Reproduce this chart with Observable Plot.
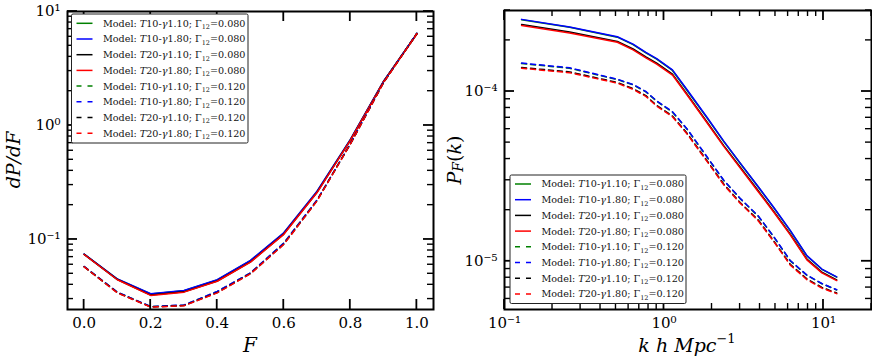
<!DOCTYPE html>
<html><head><meta charset="utf-8">
<script src="https://cdn.jsdelivr.net/npm/d3@7"></script>
<script src="https://cdn.jsdelivr.net/npm/@observablehq/plot@0.6"></script>
<style>
body{margin:0;background:#fff;}
#wrap{position:relative;width:872px;height:362px;overflow:hidden;background:#fff;}
#left,#right{position:absolute;top:0;}
#left{left:0}
#right{left:436px}
svg{overflow:visible}
</style></head><body><div id="wrap"><div id="left"></div><div id="right"></div></div>
<script>
// ---------- data ----------
const seriesNames = ["T10-γ1.10", "T10-γ1.80", "T20-γ1.10", "T20-γ1.80"];
const seriesT = ["10", "10", "20", "20"];
const seriesGamma = ["1.10", "1.80", "1.10", "1.80"];
const seriesColors = ["#008000", "#0000ff", "#000000", "#ff0000"];
const gammaLabels = ["0.080", "0.120"];

// left panel: flux PDF
const F = [0.0, 0.1, 0.2, 0.3, 0.4, 0.5, 0.6, 0.7, 0.8, 0.9, 1.0];
const pdf_T10g110_G080 = [0.0743, 0.0448, 0.0332, 0.0355, 0.0441, 0.0652, 0.1140, 0.264, 0.75, 2.44, 6.38];
const pdf_T10g180_G080 = [0.0745, 0.0450, 0.0334, 0.0357, 0.0443, 0.0655, 0.1145, 0.265, 0.75, 2.45, 6.40];
const pdf_T20g110_G080 = [0.0740, 0.0445, 0.0325, 0.0347, 0.0432, 0.0636, 0.1115, 0.259, 0.74, 2.43, 6.36];
const pdf_T20g180_G080 = [0.0738, 0.0443, 0.0323, 0.0345, 0.0430, 0.0633, 0.1110, 0.258, 0.74, 2.42, 6.35];
const pdf_T10g110_G120 = [0.0578, 0.0344, 0.0257, 0.0265, 0.0349, 0.0508, 0.0928, 0.221, 0.69, 2.40, 6.44];
const pdf_T10g180_G120 = [0.0580, 0.0345, 0.0258, 0.0266, 0.0350, 0.0510, 0.0930, 0.222, 0.69, 2.40, 6.45];
const pdf_T20g110_G120 = [0.0576, 0.0341, 0.0256, 0.0263, 0.0342, 0.0502, 0.0908, 0.219, 0.686, 2.38, 6.41];
const pdf_T20g180_G120 = [0.0575, 0.0340, 0.0255, 0.0262, 0.0340, 0.0500, 0.0905, 0.218, 0.685, 2.38, 6.40];

// right panel: flux power spectrum
const k = [0.128, 0.256, 0.51, 0.64, 0.77, 0.9, 1.13, 1.4, 1.87, 2.37, 3.0, 3.9, 4.87, 6.19, 7.87, 9.77, 12.1];
const pk_T10g110_G080 = [2.65e-4, 2.39e-4, 2.09e-4, 1.89e-4, 1.69e-4, 1.55e-4, 1.33e-4, 1.01e-4, 6.95e-5, 5.07e-5, 3.78e-5, 2.74e-5, 2.07e-5, 1.51e-5, 1.075e-5, 8.97e-6, 8.07e-6];
const pk_T10g180_G080 = [2.66e-4, 2.40e-4, 2.10e-4, 1.90e-4, 1.70e-4, 1.56e-4, 1.34e-4, 1.02e-4, 7.0e-5, 5.1e-5, 3.8e-5, 2.75e-5, 2.08e-5, 1.52e-5, 1.08e-5, 9.0e-6, 8.1e-6];
const pk_T20g110_G080 = [2.48e-4, 2.24e-4, 1.97e-4, 1.78e-4, 1.60e-4, 1.47e-4, 1.265e-4, 9.6e-5, 6.57e-5, 4.8e-5, 3.59e-5, 2.6e-5, 1.97e-5, 1.445e-5, 1.03e-5, 8.64e-6, 7.78e-6];
const pk_T20g180_G080 = [2.45e-4, 2.21e-4, 1.95e-4, 1.76e-4, 1.58e-4, 1.45e-4, 1.25e-4, 9.5e-5, 6.5e-5, 4.75e-5, 3.55e-5, 2.57e-5, 1.95e-5, 1.43e-5, 1.02e-5, 8.55e-6, 7.7e-6];
const pk_T10g110_G120 = [1.46e-4, 1.37e-4, 1.175e-4, 1.095e-4, 9.95e-5, 8.76e-5, 7.56e-5, 5.97e-5, 4.08e-5, 2.99e-5, 2.34e-5, 1.84e-5, 1.395e-5, 1.005e-5, 8.27e-6, 7.37e-6, 6.78e-6];
const pk_T10g180_G120 = [1.47e-4, 1.38e-4, 1.18e-4, 1.10e-4, 1.0e-4, 8.8e-5, 7.6e-5, 6.0e-5, 4.1e-5, 3.0e-5, 2.35e-5, 1.85e-5, 1.40e-5, 1.01e-5, 8.3e-6, 7.4e-6, 6.8e-6];
const pk_T20g110_G120 = [1.385e-4, 1.305e-4, 1.13e-4, 1.04e-4, 9.45e-5, 8.28e-5, 7.17e-5, 5.66e-5, 3.89e-5, 2.85e-5, 2.22e-5, 1.75e-5, 1.32e-5, 9.6e-6, 7.88e-6, 7.02e-6, 6.5e-6];
const pk_T20g180_G120 = [1.37e-4, 1.29e-4, 1.12e-4, 1.03e-4, 9.35e-5, 8.2e-5, 7.1e-5, 5.6e-5, 3.85e-5, 2.82e-5, 2.2e-5, 1.73e-5, 1.31e-5, 9.5e-6, 7.8e-6, 6.95e-6, 6.45e-6];

// ticks
const leftXTicks = [0.0, 0.2, 0.4, 0.6, 0.8, 1.0];
const leftYTicks = [0.1, 1, 10];
const leftYTickLabels = ["10⁻¹", "10⁰", "10¹"];
const rightXTicks = [0.1, 1, 10];
const rightXTickLabels = ["10⁻¹", "10⁰", "10¹"];
const rightYTicks = [1e-5, 1e-4];
const rightYTickLabels = ["10⁻⁵", "10⁻⁴"];

// ---------- helpers ----------
const pdfSeries = [
  [pdf_T10g110_G080, pdf_T10g180_G080, pdf_T20g110_G080, pdf_T20g180_G080],
  [pdf_T10g110_G120, pdf_T10g180_G120, pdf_T20g110_G120, pdf_T20g180_G120]
];
const pkSeries = [
  [pk_T10g110_G080, pk_T10g180_G080, pk_T20g110_G080, pk_T20g180_G080],
  [pk_T10g110_G120, pk_T10g180_G120, pk_T20g110_G120, pk_T20g180_G120]
];
const DASH = "5,4";

function logMinors(lo, hi) {
  const out = [];
  for (let e = Math.floor(Math.log10(lo)); e <= Math.ceil(Math.log10(hi)); e++) {
    for (let m = 2; m <= 9; m++) {
      const v = m * Math.pow(10, e);
      if (v >= lo * 0.999 && v <= hi * 1.001) out.push(v);
    }
  }
  return out;
}

function lineMarks(xs, groups) {
  const marks = [];
  groups.forEach((group, gi) => {
    group.forEach((ys, si) => {
      const rows = xs.map((x, i) => ({x, y: ys[i]}));
      const opts = {x: "x", y: "y", stroke: seriesColors[si], strokeWidth: 1.5};
      if (gi === 1) opts.strokeDasharray = DASH;
      marks.push(Plot.line(rows, opts));
    });
  });
  return marks;
}

// inward ticks on all four sides, positioned through the plot's own scales
function drawTicks(svg, xMajor, xMinor, yMajor, yMinor) {
  const sx = svg.scale("x"), sy = svg.scale("y");
  const X0 = Math.min(...sx.range), X1 = Math.max(...sx.range);
  const Y0 = Math.min(...sy.range), Y1 = Math.max(...sy.range);
  const g = d3.select(svg).append("g").attr("stroke", "black").attr("fill", "none");
  const seg = (x1, y1, x2, y2, w) => g.append("line").attr("x1", x1).attr("y1", y1).attr("x2", x2).attr("y2", y2).attr("stroke-width", w);
  const doX = (vals, len, w) => vals.forEach(v => { const x = sx.apply(v); seg(x, Y1, x, Y1 - len, w); seg(x, Y0, x, Y0 + len, w); });
  const doY = (vals, len, w) => vals.forEach(v => { const y = sy.apply(v); seg(X0, y, X0 + len, y, w); seg(X1, y, X1 - len, y, w); });
  doX(xMajor, 10, 1.8); doX(xMinor, 6, 1.4);
  doY(yMajor, 10, 1.8); doY(yMinor, 6, 1.4);
}

function drawLegend(svg, x0, y0, w, h, rowY0, rowStep) {
  const g = d3.select(svg).append("g").attr("text-anchor", "start");
  g.append("rect").attr("x", x0).attr("y", y0).attr("width", w).attr("height", h)
    .attr("fill", "white").attr("stroke", "#222").attr("stroke-width", 1).attr("rx", 1.5);
  let i = 0;
  gammaLabels.forEach((G, gi) => {
    seriesNames.forEach((name, si) => {
      const y = rowY0 + i * rowStep;
      g.append("line").attr("x1", x0 + 5).attr("x2", x0 + 21).attr("y1", y).attr("y2", y)
        .attr("stroke", seriesColors[si]).attr("stroke-width", 1.5)
        .attr("stroke-dasharray", gi === 1 ? "5,6" : null);
      const t = g.append("text").attr("x", x0 + 31.5).attr("y", y).attr("dy", "0.36em")
        .attr("text-anchor", "start")
        .attr("font-family", "DejaVu Serif").attr("font-size", 9.6).attr("fill", "#111");
      t.append("tspan").text("Model: ");
      t.append("tspan").attr("font-style", "italic").text("T");
      t.append("tspan").text(seriesT[si] + "-");
      t.append("tspan").attr("font-style", "italic").text("γ");
      t.append("tspan").text(seriesGamma[si] + "; Γ");
      t.append("tspan").attr("font-size", 6.5).attr("dy", 2.5).text("12");
      t.append("tspan").attr("dy", -2.5).text("=" + G);
      i++;
    });
  });
}

const baseStyle = {fontFamily: "DejaVu Serif", fontSize: "15px", color: "black", background: "white", overflow: "visible"};

// ---------- left panel ----------
{
  const width = 436, height = 362, mL = 67, mR = 3, mT = 11, mB = 53;
  const xDom = [-0.05, 1.05], yDom = [0.0243, 10];
  const svg = Plot.plot({
    width, height, marginLeft: mL, marginRight: mR, marginTop: mT, marginBottom: mB,
    style: baseStyle,
    x: {domain: xDom},
    y: {type: "log", domain: yDom},
    marks: [
      ...lineMarks(F, pdfSeries),
      Plot.axisX(leftXTicks, {anchor: "bottom", tickSize: 0, tickPadding: 8, tickFormat: d3.format(".1f"), label: null}),
      Plot.axisY(leftYTicks, {anchor: "left", tickSize: 0, tickPadding: 7, tickFormat: d => leftYTickLabels[leftYTicks.indexOf(d)], label: null}),
      Plot.frame({stroke: "black", strokeWidth: 2})
    ]
  });
  document.getElementById("left").appendChild(svg);
  drawTicks(svg, leftXTicks, [], leftYTicks, logMinors(yDom[0], yDom[1]));
  const s = d3.select(svg);
  s.append("text").attr("transform", "translate(13,160) rotate(-90)").attr("text-anchor", "middle")
    .attr("dominant-baseline", "central").attr("font-family", "DejaVu Serif").attr("font-size", 19)
    .attr("font-style", "italic").text("dP/dF");
  s.append("text").attr("x", 250).attr("y", 345).attr("text-anchor", "middle")
    .attr("dominant-baseline", "central").attr("font-family", "DejaVu Serif").attr("font-size", 20)
    .attr("font-style", "italic").text("F");
  drawLegend(svg, 71.5, 14, 176.5, 129, 23.3, 15.7);
}

// ---------- right panel ----------
{
  const width = 436, height = 362, mL = 68, mR = 1, mT = 10, mB = 53;
  const xDom = [0.1, 20], yDom = [5.2e-6, 3e-4];
  const svg = Plot.plot({
    width, height, marginLeft: mL, marginRight: mR, marginTop: mT, marginBottom: mB,
    style: baseStyle,
    x: {type: "log", domain: xDom},
    y: {type: "log", domain: yDom},
    marks: [
      ...lineMarks(k, pkSeries),
      Plot.axisX(rightXTicks, {anchor: "bottom", tickSize: 0, tickPadding: 8, tickFormat: d => rightXTickLabels[rightXTicks.indexOf(d)], label: null}),
      Plot.axisY(rightYTicks, {anchor: "left", tickSize: 0, tickPadding: 7, tickFormat: d => rightYTickLabels[rightYTicks.indexOf(d)], label: null}),
      Plot.frame({stroke: "black", strokeWidth: 2})
    ]
  });
  document.getElementById("right").appendChild(svg);
  drawTicks(svg, rightXTicks, logMinors(xDom[0], xDom[1]), rightYTicks, logMinors(yDom[0], yDom[1]));
  const s = d3.select(svg);
  const t1 = s.append("text").attr("transform", "translate(18,160) rotate(-90)").attr("text-anchor", "middle")
    .attr("dominant-baseline", "central").attr("font-family", "DejaVu Serif").attr("font-size", 19);
  t1.append("tspan").attr("font-style", "italic").text("P");
  t1.append("tspan").attr("font-style", "italic").attr("font-size", 14).attr("dy", 4).text("F");
  t1.append("tspan").attr("dy", -4).text("(");
  t1.append("tspan").attr("font-style", "italic").text("k");
  t1.append("tspan").text(")");
  const t2 = s.append("text").attr("x", 251).attr("y", 345).attr("text-anchor", "middle")
    .attr("dominant-baseline", "central").attr("font-family", "DejaVu Serif").attr("font-size", 19);
  t2.append("tspan").attr("font-style", "italic").text("k h Mpc");
  t2.append("tspan").attr("font-size", 13).attr("dy", -7).text("−1");
  drawLegend(svg, 74, 175, 176, 128.5, 184, 15.7);
}
</script>
</body></html>
